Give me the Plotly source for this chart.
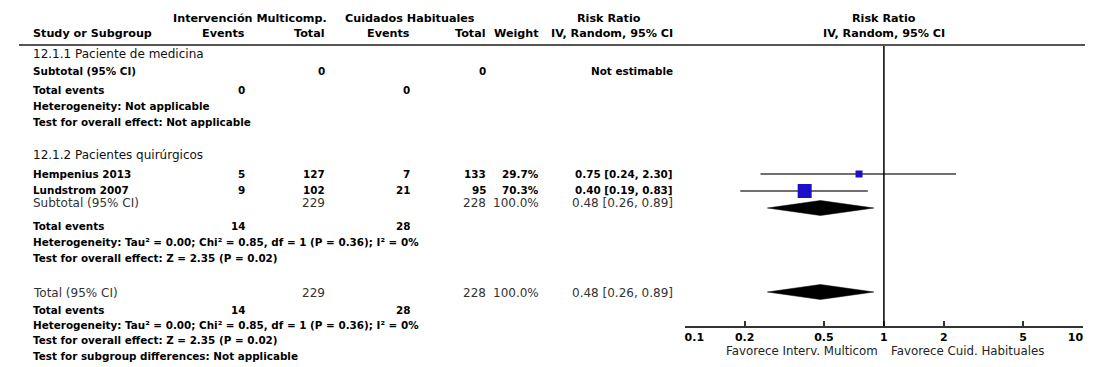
import plotly.graph_objects as go

# ---------------- data ----------------
group_titles = ["12.1.1 Paciente de medicina", "12.1.2 Pacientes quirúrgicos"]
studies = ["Hempenius 2013", "Lundstrom 2007"]
ev_int = [5, 9]
tot_int = [127, 102]
ev_ctl = [7, 21]
tot_ctl = [133, 95]
weights = [29.7, 70.3]
rr = [0.75, 0.40]
rr_lo = [0.24, 0.19]
rr_hi = [2.30, 0.83]

g1_tot_int, g1_tot_ctl, g1_ev_int, g1_ev_ctl = 0, 0, 0, 0
g2_tot_int, g2_tot_ctl, g2_ev_int, g2_ev_ctl = 229, 228, 14, 28
g2_weight = 100.0
g2_rr, g2_lo, g2_hi = 0.48, 0.26, 0.89
all_tot_int, all_tot_ctl, all_ev_int, all_ev_ctl = 229, 228, 14, 28
all_weight = 100.0
all_rr, all_lo, all_hi = 0.48, 0.26, 0.89
het_text = "Heterogeneity: Tau² = 0.00; Chi² = 0.85, df = 1 (P = 0.36); I² = 0%"
overall_text = "Test for overall effect: Z = 2.35 (P = 0.02)"

tick_vals = [0.1, 0.2, 0.5, 1, 2, 5, 10]
tick_labels = ["0.1", "0.2", "0.5", "1", "2", "5", "10"]
favours_left = "Favorece Interv. Multicom"
favours_right = "Favorece Cuid. Habituales"

# ---------------- layout helpers (pixels) ----------------
W, H = 1100, 367
AXIS_Y = 326
FONT = "DejaVu Sans"
BLUE = "#1d0fc8"
REG = 12          # regular-weight rows
BOD = 10.4        # bold body rows
HS = 11.2         # headers
LX = 13           # left text margin

def px(x):
    return x / W

def py(y):
    return 1 - y / H

ann = []

def txt(x, y, s, anchor="left", bold=True, size=BOD, color="#000"):
    ann.append(dict(
        x=px(x), y=py(y), xref="paper", yref="paper", text=(f"<b>{s}</b>" if bold else s),
        showarrow=False, xanchor=anchor, yanchor="middle", borderpad=0,
        font=dict(family=FONT, size=size, color=color)))

fmt_ci = lambda r, l, h: f"{r:.2f} [{l:.2f}, {h:.2f}]"

# column right edges
C_EI, C_TI, C_EC, C_TC, C_W, C_RR = 234, 317, 404, 483, 538, 676

# headers
txt(238, 18, "Intervención Multicomp.", "center", size=HS)
txt(403, 18, "Cuidados Habituales", "center", size=HS)
txt(609, 18, "Risk Ratio", "center", size=HS)
txt(893, 18, "Risk Ratio", "center", size=HS)
txt(LX, 33, "Study or Subgroup", size=HS)
txt(C_EI, 33, "Events", "right", size=HS)
txt(C_TI, 33, "Total", "right", size=HS)
txt(C_EC, 33, "Events", "right", size=HS)
txt(C_TC, 33, "Total", "right", size=HS)
txt(C_W, 33, "Weight", "right", size=HS)
txt(C_RR, 33, "IV, Random, 95% CI", "right", size=HS)
txt(893, 33, "IV, Random, 95% CI", "center", size=HS)

# group 1
txt(LX, 54, group_titles[0], bold=False, size=REG, color="#111")
txt(LX, 71, "Subtotal (95% CI)")
txt(C_TI, 71, str(g1_tot_int), "right")
txt(C_TC, 71, str(g1_tot_ctl), "right")
txt(C_RR, 71, "Not estimable", "right")
txt(LX, 90, "Total events")
txt(C_EI, 90, str(g1_ev_int), "right")
txt(C_EC, 90, str(g1_ev_ctl), "right")
txt(LX, 106, "Heterogeneity: Not applicable")
txt(LX, 122, "Test for overall effect: Not applicable")

# group 2
txt(LX, 155, group_titles[1], bold=False, size=REG, color="#111")
row_y = [174, 190]
for i, s in enumerate(studies):
    y = row_y[i]
    txt(LX, y, s)
    txt(C_EI, y, str(ev_int[i]), "right")
    txt(C_TI, y, str(tot_int[i]), "right")
    txt(C_EC, y, str(ev_ctl[i]), "right")
    txt(C_TC, y, str(tot_ctl[i]), "right")
    txt(C_W, y, f"{weights[i]:.1f}%", "right")
    txt(C_RR, y, fmt_ci(rr[i], rr_lo[i], rr_hi[i]), "right")
GR = "#333"
txt(LX, 203, "Subtotal (95% CI)", bold=False, size=REG, color=GR)
txt(C_TI, 203, str(g2_tot_int), "right", bold=False, size=REG, color=GR)
txt(C_TC, 203, str(g2_tot_ctl), "right", bold=False, size=REG, color=GR)
txt(C_W, 203, f"{g2_weight:.1f}%", "right", bold=False, size=REG, color=GR)
txt(C_RR, 203, fmt_ci(g2_rr, g2_lo, g2_hi), "right", bold=False, size=REG, color=GR)
txt(LX, 226, "Total events")
txt(C_EI, 226, str(g2_ev_int), "right")
txt(C_EC, 226, str(g2_ev_ctl), "right")
txt(LX, 242, het_text)
txt(LX, 258, overall_text)

# overall
txt(LX, 293, "Total (95% CI)", bold=False, size=REG, color=GR)
txt(C_TI, 293, str(all_tot_int), "right", bold=False, size=REG, color=GR)
txt(C_TC, 293, str(all_tot_ctl), "right", bold=False, size=REG, color=GR)
txt(C_W, 293, f"{all_weight:.1f}%", "right", bold=False, size=REG, color=GR)
txt(C_RR, 293, fmt_ci(all_rr, all_lo, all_hi), "right", bold=False, size=REG, color=GR)
txt(LX, 310, "Total events")
txt(C_EI, 310, str(all_ev_int), "right")
txt(C_EC, 310, str(all_ev_ctl), "right")
txt(LX, 325, het_text)
txt(LX, 340, overall_text)
txt(LX, 356, "Test for subgroup differences: Not applicable")

# favours labels
txt(887, 351, favours_left, "right", bold=False, size=11.8, color="#222")
txt(899, 351, favours_right, "left", bold=False, size=11.8, color="#222")

# ---------------- figure ----------------
fig = go.Figure()

# study CIs and squares
mark_y = [174, 191]
sq_size = [7, 14]
for i in range(len(studies)):
    fig.add_trace(go.Scatter(x=[rr_lo[i], rr_hi[i]], y=[mark_y[i], mark_y[i]], mode="lines",
                             line=dict(color="#707070", width=2), hoverinfo="skip"))
    fig.add_trace(go.Scatter(x=[rr[i]], y=[mark_y[i]], mode="markers",
                             marker=dict(symbol="square", size=sq_size[i], color=BLUE,
                                         line=dict(width=0)), hoverinfo="skip"))

# diamonds
def diamond(est, lo, hi, yc, h=7.5):
    fig.add_trace(go.Scatter(x=[lo, est, hi, est, lo], y=[yc, yc - h, yc, yc + h, yc],
                             mode="lines", fill="toself", fillcolor="#000",
                             line=dict(color="#000", width=0.5), hoverinfo="skip"))

diamond(g2_rr, g2_lo, g2_hi, 208)
diamond(all_rr, all_lo, all_hi, 292)

# vertical line at 1 and header rule
shapes = [
    dict(type="line", xref="x", yref="y", x0=1, x1=1, y0=45, y1=AXIS_Y,
         line=dict(color="#000", width=1.5)),
    dict(type="line", xref="paper", yref="paper", x0=0, x1=1, y0=py(45), y1=py(45),
         line=dict(color="#555", width=2)),
]

nb = "\u00a0"
ticktext = list(tick_labels)
ticktext[0] = nb * 5 + ticktext[0]
ticktext[-1] = ticktext[-1] + nb * 4

fig.update_layout(
    width=W, height=H, margin=dict(l=0, r=0, t=0, b=0),
    paper_bgcolor="white", plot_bgcolor="white", showlegend=False,
    xaxis=dict(type="log", range=[-1, 1], domain=[687 / W, 1098 / W],
               tickvals=tick_vals, ticktext=[f"<b>{t}</b>" for t in ticktext],
               ticks="inside", ticklen=5, tickwidth=1.5, tickcolor="#333",
               showline=True, linecolor="#333", linewidth=1.5,
               showgrid=False, zeroline=False, ticklabeloverflow="allow",
               tickfont=dict(family=FONT, size=11, color="#000")),
    yaxis=dict(range=[AXIS_Y, 0], domain=[(H - AXIS_Y) / H, 1], visible=False,
               showgrid=False, zeroline=False),
    annotations=ann, shapes=shapes,
)

fig.write_html("out.html", config={"responsive": False, "displayModeBar": False},
               post_script="document.body.style.margin='0';document.body.style.overflow='hidden';")
